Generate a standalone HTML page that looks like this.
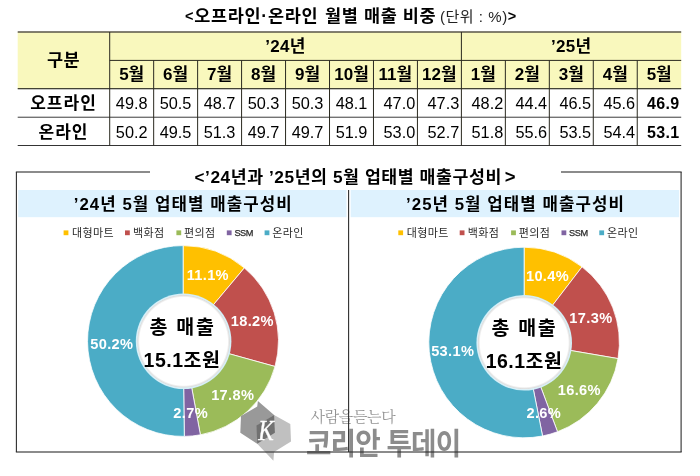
<!DOCTYPE html>
<html lang="ko"><head><meta charset="utf-8"><title>오프라인·온라인 월별 매출 비중</title>
<style>html,body{margin:0;padding:0;background:#fff}body{width:700px;height:476px;overflow:hidden}svg{display:block}text{font-family:"Liberation Sans","Noto Sans CJK KR",sans-serif}.b{font-weight:700}.s{font-family:"Liberation Serif","Noto Serif CJK KR",serif}</style>
</head><body>
<svg width="700" height="476" viewBox="0 0 700 476">
<rect width="700" height="476" fill="#fff"/>
<defs><radialGradient id="hole"><stop offset="0.92" stop-color="#fff"/><stop offset="0.96" stop-color="#dedede"/><stop offset="0.975" stop-color="#d9f0f8"/><stop offset="1" stop-color="#cfecf6"/></radialGradient></defs>
<rect x="17.7" y="32.0" width="663.5" height="56.7" fill="#f9f8bd"/>
<rect x="17.70" y="31.25" width="663.50" height="1.50" fill="#5a5648"/>
<rect x="109.70" y="59.90" width="571.50" height="1.00" fill="#2b2a20"/>
<rect x="17.70" y="88.12" width="663.50" height="1.15" fill="#2b2a20"/>
<rect x="17.70" y="116.73" width="663.50" height="0.95" fill="#333"/>
<rect x="17.70" y="145.03" width="663.50" height="0.95" fill="#2a2a2a"/>
<rect x="109.20" y="32.00" width="1.00" height="113.50" fill="#2b2a20"/>
<rect x="460.89" y="32.00" width="1.00" height="113.50" fill="#2b2a20"/>
<rect x="153.16" y="60.40" width="1.00" height="85.10" fill="#2b2a20"/>
<rect x="197.12" y="60.40" width="1.00" height="85.10" fill="#2b2a20"/>
<rect x="241.08" y="60.40" width="1.00" height="85.10" fill="#2b2a20"/>
<rect x="285.05" y="60.40" width="1.00" height="85.10" fill="#2b2a20"/>
<rect x="329.01" y="60.40" width="1.00" height="85.10" fill="#2b2a20"/>
<rect x="372.97" y="60.40" width="1.00" height="85.10" fill="#2b2a20"/>
<rect x="416.93" y="60.40" width="1.00" height="85.10" fill="#2b2a20"/>
<rect x="504.85" y="60.40" width="1.00" height="85.10" fill="#2b2a20"/>
<rect x="548.82" y="60.40" width="1.00" height="85.10" fill="#2b2a20"/>
<rect x="592.78" y="60.40" width="1.00" height="85.10" fill="#2b2a20"/>
<rect x="636.74" y="60.40" width="1.00" height="85.10" fill="#2b2a20"/>
<text x="185" y="21.6" font-size="17.5" class="b" letter-spacing="0.7"><tspan font-size="14.5" dy="-0.8">&lt;</tspan><tspan dy="0.8">오프라인·온라인 </tspan><tspan dx="1">월별 매출 </tspan><tspan dx="-0.4">비중 </tspan><tspan font-size="15" font-weight="400" letter-spacing="0.55" fill="#222" dx="-2.1">(단위 : %)</tspan><tspan font-size="14.5" dy="-0.8">&gt;</tspan></text>
<text x="63.5" y="66.0" font-size="17.5" class="b" text-anchor="middle" letter-spacing="0.5">구분</text>
<text x="285.5" y="52.2" font-size="17" class="b" text-anchor="middle" letter-spacing="0.3">’24년</text>
<text x="571.3" y="52.2" font-size="17" class="b" text-anchor="middle" letter-spacing="0.3">’25년</text>
<text x="131.7" y="80.2" font-size="17" class="b" text-anchor="middle">5월</text>
<text x="131.7" y="109.0" font-size="16.3" text-anchor="middle">49.8</text>
<text x="131.7" y="137.5" font-size="16.3" text-anchor="middle">50.2</text>
<text x="175.6" y="80.2" font-size="17" class="b" text-anchor="middle">6월</text>
<text x="175.6" y="109.0" font-size="16.3" text-anchor="middle">50.5</text>
<text x="175.6" y="137.5" font-size="16.3" text-anchor="middle">49.5</text>
<text x="219.6" y="80.2" font-size="17" class="b" text-anchor="middle">7월</text>
<text x="219.6" y="109.0" font-size="16.3" text-anchor="middle">48.7</text>
<text x="219.6" y="137.5" font-size="16.3" text-anchor="middle">51.3</text>
<text x="263.6" y="80.2" font-size="17" class="b" text-anchor="middle">8월</text>
<text x="263.6" y="109.0" font-size="16.3" text-anchor="middle">50.3</text>
<text x="263.6" y="137.5" font-size="16.3" text-anchor="middle">49.7</text>
<text x="307.5" y="80.2" font-size="17" class="b" text-anchor="middle">9월</text>
<text x="307.5" y="109.0" font-size="16.3" text-anchor="middle">50.3</text>
<text x="307.5" y="137.5" font-size="16.3" text-anchor="middle">49.7</text>
<text x="351.5" y="80.2" font-size="17" class="b" text-anchor="middle">10월</text>
<text x="351.5" y="109.0" font-size="16.3" text-anchor="middle">48.1</text>
<text x="351.5" y="137.5" font-size="16.3" text-anchor="middle">51.9</text>
<text x="395.4" y="80.2" font-size="17" class="b" text-anchor="middle">11월</text>
<text x="399.4" y="109.0" font-size="16.3" text-anchor="middle">47.0</text>
<text x="399.4" y="137.5" font-size="16.3" text-anchor="middle">53.0</text>
<text x="439.4" y="80.2" font-size="17" class="b" text-anchor="middle">12월</text>
<text x="443.4" y="109.0" font-size="16.3" text-anchor="middle">47.3</text>
<text x="443.4" y="137.5" font-size="16.3" text-anchor="middle">52.7</text>
<text x="483.4" y="80.2" font-size="17" class="b" text-anchor="middle">1월</text>
<text x="487.4" y="109.0" font-size="16.3" text-anchor="middle">48.2</text>
<text x="487.4" y="137.5" font-size="16.3" text-anchor="middle">51.8</text>
<text x="527.3" y="80.2" font-size="17" class="b" text-anchor="middle">2월</text>
<text x="531.3" y="109.0" font-size="16.3" text-anchor="middle">44.4</text>
<text x="531.3" y="137.5" font-size="16.3" text-anchor="middle">55.6</text>
<text x="571.3" y="80.2" font-size="17" class="b" text-anchor="middle">3월</text>
<text x="575.3" y="109.0" font-size="16.3" text-anchor="middle">46.5</text>
<text x="575.3" y="137.5" font-size="16.3" text-anchor="middle">53.5</text>
<text x="615.3" y="80.2" font-size="17" class="b" text-anchor="middle">4월</text>
<text x="619.3" y="109.0" font-size="16.3" text-anchor="middle">45.6</text>
<text x="619.3" y="137.5" font-size="16.3" text-anchor="middle">54.4</text>
<text x="659.2" y="80.2" font-size="17" class="b" text-anchor="middle">5월</text>
<text x="663.2" y="109.0" font-size="16" class="b" text-anchor="middle" letter-spacing="0.35">46.9</text>
<text x="663.2" y="137.5" font-size="16" class="b" text-anchor="middle" letter-spacing="0.35">53.1</text>
<text x="63.5" y="109.0" font-size="17" class="b" text-anchor="middle" letter-spacing="1">오프라인</text>
<text x="63.5" y="137.5" font-size="17" class="b" text-anchor="middle" letter-spacing="1">온라인</text>
<rect x="18.2" y="190" width="328.3" height="27.2" fill="#def2fe"/>
<rect x="350.7" y="190" width="328.4" height="27.2" fill="#def2fe"/>
<text x="194.6" y="183" font-size="17.3" class="b" letter-spacing="0.55"><tspan font-size="17" dy="-0.2">&lt;</tspan><tspan dy="0.2" dx="0">’24년과 ’25년의 5월 업태별 매출구성비</tspan><tspan font-size="18.5" dy="0.3" dx="3">&gt;</tspan></text>
<text x="183.2" y="210.3" font-size="16.8" class="b" text-anchor="middle" letter-spacing="1.05">’24년 5월 업태별 매출구성비</text>
<text x="515.5" y="210.3" font-size="16.8" class="b" text-anchor="middle" letter-spacing="1.05">’25년 5월 업태별 매출구성비</text>
<rect x="63.6" y="230.4" width="4.8" height="4.8" fill="#FFC000"/>
<text x="72.0" y="237.0" font-size="11" letter-spacing="0.4" fill="#2a2a2a">대형마트</text>
<rect x="125.0" y="230.4" width="4.8" height="4.8" fill="#C0504D"/>
<text x="133.0" y="237.0" font-size="11" letter-spacing="0.4" fill="#2a2a2a">백화점</text>
<rect x="176.4" y="230.4" width="4.8" height="4.8" fill="#9BBB59"/>
<text x="184.0" y="237.0" font-size="11" letter-spacing="0.4" fill="#2a2a2a">편의점</text>
<rect x="226.8" y="230.4" width="4.8" height="4.8" fill="#8064A2"/>
<text x="234.4" y="236.2" font-size="9.2" letter-spacing="-0.45" fill="#2a2a2a" stroke="#2a2a2a" stroke-width="0.25">SSM</text>
<rect x="264.6" y="230.4" width="4.8" height="4.8" fill="#4BACC6"/>
<text x="272.3" y="237.0" font-size="11" letter-spacing="0.4" fill="#2a2a2a">온라인</text>
<path d="M183.10 245.60A95.40 95.40 0 0 1 244.37 267.88L212.19 306.28A45.30 45.30 0 0 0 183.10 295.70Z" fill="#FFC000" stroke="#fff" stroke-width="0.8" stroke-linejoin="round"/>
<path d="M244.37 267.88A95.40 95.40 0 0 1 275.04 366.46L226.76 353.09A45.30 45.30 0 0 0 212.19 306.28Z" fill="#C0504D" stroke="#fff" stroke-width="0.8" stroke-linejoin="round"/>
<path d="M275.04 366.46A95.40 95.40 0 0 1 200.39 434.82L191.31 385.55A45.30 45.30 0 0 0 226.76 353.09Z" fill="#9BBB59" stroke="#fff" stroke-width="0.8" stroke-linejoin="round"/>
<path d="M200.39 434.82A95.40 95.40 0 0 1 184.30 436.39L183.67 386.30A45.30 45.30 0 0 0 191.31 385.55Z" fill="#8064A2" stroke="#fff" stroke-width="0.8" stroke-linejoin="round"/>
<path d="M184.30 436.39A95.40 95.40 0 1 1 183.10 245.60L183.10 295.70A45.30 45.30 0 1 0 183.67 386.30Z" fill="#4BACC6" stroke="#fff" stroke-width="0.8" stroke-linejoin="round"/>
<circle cx="183.6" cy="341.3" r="47.8" fill="url(#hole)"/>
<text x="207.8" y="279.6" font-size="14.6" class="b" text-anchor="middle" letter-spacing="0.35" fill="#fff">11.1%</text>
<text x="252.3" y="325.5" font-size="14.6" class="b" text-anchor="middle" letter-spacing="0.35" fill="#fff">18.2%</text>
<text x="232.7" y="399.6" font-size="14.6" class="b" text-anchor="middle" letter-spacing="0.35" fill="#fff">17.8%</text>
<text x="190.7" y="417.9" font-size="14.6" class="b" text-anchor="middle" letter-spacing="0.35" fill="#fff">2.7%</text>
<text x="111.8" y="348.6" font-size="14.6" class="b" text-anchor="middle" letter-spacing="0.35" fill="#fff">50.2%</text>
<text x="182.6" y="333.6" font-size="19.5" class="b" text-anchor="middle" letter-spacing="1.7">총 매출</text>
<text x="182.0" y="367.2" font-size="19.5" class="b" text-anchor="middle" letter-spacing="0.5">15.1조원</text>
<rect x="398.3" y="230.4" width="4.8" height="4.8" fill="#FFC000"/>
<text x="406.7" y="237.0" font-size="11" letter-spacing="0.4" fill="#2a2a2a">대형마트</text>
<rect x="459.7" y="230.4" width="4.8" height="4.8" fill="#C0504D"/>
<text x="467.7" y="237.0" font-size="11" letter-spacing="0.4" fill="#2a2a2a">백화점</text>
<rect x="511.1" y="230.4" width="4.8" height="4.8" fill="#9BBB59"/>
<text x="518.7" y="237.0" font-size="11" letter-spacing="0.4" fill="#2a2a2a">편의점</text>
<rect x="561.5" y="230.4" width="4.8" height="4.8" fill="#8064A2"/>
<text x="569.1" y="236.2" font-size="9.2" letter-spacing="-0.45" fill="#2a2a2a" stroke="#2a2a2a" stroke-width="0.25">SSM</text>
<rect x="599.3" y="230.4" width="4.8" height="4.8" fill="#4BACC6"/>
<text x="607.0" y="237.0" font-size="11" letter-spacing="0.4" fill="#2a2a2a">온라인</text>
<path d="M524.10 247.20A95.30 95.30 0 0 1 582.04 266.83L551.64 306.53A45.30 45.30 0 0 0 524.10 297.20Z" fill="#FFC000" stroke="#fff" stroke-width="0.8" stroke-linejoin="round"/>
<path d="M582.04 266.83A95.30 95.30 0 0 1 618.03 358.59L568.75 350.15A45.30 45.30 0 0 0 551.64 306.53Z" fill="#C0504D" stroke="#fff" stroke-width="0.8" stroke-linejoin="round"/>
<path d="M618.03 358.59A95.30 95.30 0 0 1 557.51 431.75L539.98 384.93A45.30 45.30 0 0 0 568.75 350.15Z" fill="#9BBB59" stroke="#fff" stroke-width="0.8" stroke-linejoin="round"/>
<path d="M557.51 431.75A95.30 95.30 0 0 1 542.55 436.00L532.87 386.94A45.30 45.30 0 0 0 539.98 384.93Z" fill="#8064A2" stroke="#fff" stroke-width="0.8" stroke-linejoin="round"/>
<path d="M542.55 436.00A95.30 95.30 0 1 1 524.10 247.20L524.10 297.20A45.30 45.30 0 1 0 532.87 386.94Z" fill="#4BACC6" stroke="#fff" stroke-width="0.8" stroke-linejoin="round"/>
<circle cx="524.2" cy="342.8" r="47.8" fill="url(#hole)"/>
<text x="547.5" y="280.6" font-size="14.6" class="b" text-anchor="middle" letter-spacing="0.35" fill="#fff">10.4%</text>
<text x="590.9" y="323.0" font-size="14.6" class="b" text-anchor="middle" letter-spacing="0.35" fill="#fff">17.3%</text>
<text x="579.3" y="394.5" font-size="14.6" class="b" text-anchor="middle" letter-spacing="0.35" fill="#fff">16.6%</text>
<text x="543.8" y="417.9" font-size="14.6" class="b" text-anchor="middle" letter-spacing="0.35" fill="#fff">2.6%</text>
<text x="452.7" y="356.1" font-size="14.6" class="b" text-anchor="middle" letter-spacing="0.35" fill="#fff">53.1%</text>
<text x="524.4" y="335.0" font-size="19.5" class="b" text-anchor="middle" letter-spacing="1.7">총 매출</text>
<text x="524.1" y="368.2" font-size="19.5" class="b" text-anchor="middle" letter-spacing="0.5">16.1조원</text>
<g opacity="0.88">
<polygon points="257.9,401 274.1,415.1 274.9,432.8 257.2,443.8 240.3,432.8 241,416 257.2,406.5" fill="#8c8c8c"/>
<polygon points="274.1,415.1 290.3,424 291,441.6 274.1,452 273.4,460.7 257.2,443.8 257.2,425.4" fill="#b8b8b8"/>
<polygon points="256.5,425.4 274.1,415.1 274.9,432.8 257.2,443.8" fill="#5e5e5e"/>
<text transform="translate(266 440) scale(0.8 1)" font-size="29" class="s" font-style="italic" stroke="#fff" stroke-width="0.4" text-anchor="middle" fill="#fff">K</text>
<text x="310.5" y="421.5" font-size="15" class="s" fill="#858585" letter-spacing="-0.35">사람을듣는다</text>
<text transform="translate(306 454.3) scale(0.925 1)" font-size="30" class="b" fill="#7d7d7d" letter-spacing="-1">코리안 투데이</text>
</g>
<rect x="15.85" y="171.45" width="134.15" height="1.10" fill="#2e2e2e"/>
<rect x="561.00" y="171.45" width="120.65" height="1.10" fill="#2e2e2e"/>
<rect x="15.85" y="451.45" width="665.80" height="1.10" fill="#2e2e2e"/>
<rect x="15.85" y="172.00" width="1.10" height="280.00" fill="#2e2e2e"/>
<rect x="680.55" y="172.00" width="1.10" height="280.00" fill="#2e2e2e"/>
<rect x="348.05" y="190.00" width="1.10" height="262.00" fill="#2e2e2e"/>
</svg>
</body></html>
